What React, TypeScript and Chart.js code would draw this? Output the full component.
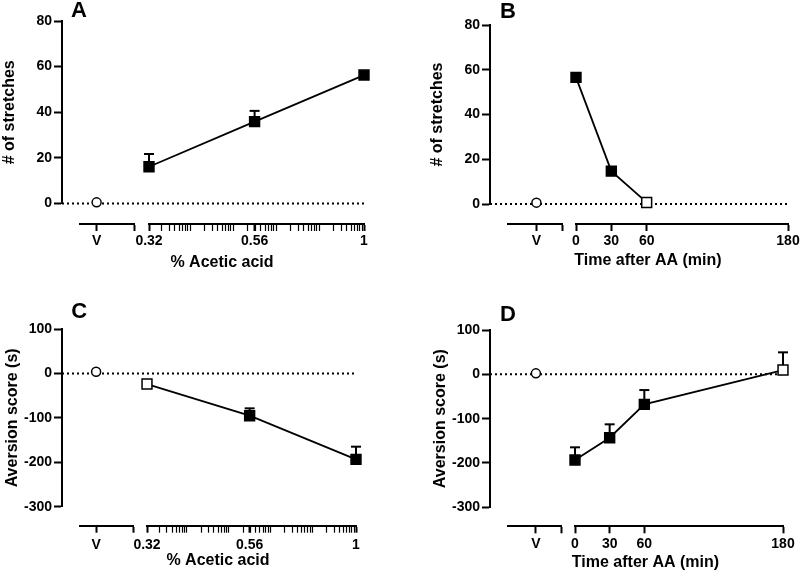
import React, { useEffect, useRef } from 'react';
import { Chart, registerables } from 'chart.js';

Chart.register(...registerables);

const FONT_FAMILY = "'Liberation Sans', Arial, Helvetica, sans-serif";

// ---------------- Data ----------------
const vehicleLabel = 'V';

const doseValues = [0.32, 0.56, 1];
const doseLabels = ['0.32', '0.56', '1'];
const doseMinorTicks = [
  0.3427, 0.3567, 0.367, 0.3752, 0.3821, 0.388, 0.3931, 0.3977,
  0.4304, 0.448, 0.461, 0.4713, 0.4799, 0.4873, 0.4937, 0.4995,
  0.5405, 0.5626, 0.5789, 0.5918, 0.6026, 0.6119, 0.62, 0.6273,
  0.6789, 0.7067, 0.7271, 0.7433, 0.7569, 0.7686, 0.7788, 0.7879,
  0.8527, 0.8876, 0.9132, 0.9336, 0.9507, 0.9653, 0.9781, 0.9896,
];

const timeValues = [0, 30, 60, 180];
const timeLabels = ['0', '30', '60', '180'];

const stretchYTicks = [0, 20, 40, 60, 80];
const aversionYTicks = [-300, -200, -100, 0, 100];

// Panel A: stretches vs % acetic acid
const stretchDoseX = [0.32, 0.56, 1];
const stretchDoseMean = [16.1, 35.9, 56.3];
const stretchDoseErrTop = [21.7, 40.6, null];
const stretchDoseOpen = [false, false, false];
const stretchDoseVehicle = 0.5;

// Panel B: stretches vs time after AA
const stretchTimeX = [0, 30, 60];
const stretchTimeMean = [56.6, 14.7, 0.7];
const stretchTimeErrTop = [null, null, null];
const stretchTimeOpen = [false, false, true];
const stretchTimeVehicle = 0.6;

// Panel C: aversion vs % acetic acid
const aversionDoseX = [0.32, 0.56, 1];
const aversionDoseMean = [-23.9, -95.2, -193.5];
const aversionDoseErrTop = [null, -78.6, -164.9];
const aversionDoseOpen = [true, false, false];
const aversionDoseVehicle = 3.8;

// Panel D: aversion vs time after AA
const aversionTimeX = [0, 30, 60, 180];
const aversionTimeMean = [-193.3, -143, -67.7, 9.7];
const aversionTimeErrTop = [-164.7, -112.8, -35.5, 49.6];
const aversionTimeOpen = [false, false, false, true];
const aversionTimeVehicle = 2.2;

// ---------------- Layout of panels ----------------
type Panel = {
  letter: string; letterX: number; letterY: number;
  left: number; top: number; w: number; h: number;
  axisX: number; axisTop: number; axisBottom: number; xTop: number;
  vStart: number; vEnd: number; mStart: number; mEnd: number; vMax: number;
  labelPad: number; titleOffset: number; yTitlePad: number;
  log: boolean; xMin: number; xMax: number;
  xMajors: number[]; xMajorLabels: string[]; xMinors: number[];
  yMin: number; yMax: number; yTicks: number[];
  yTitle: string; xTitle: string;
  xs: number[]; mean: number[]; errTop: (number | null)[]; open: boolean[]; vehicle: number;
};

const panels: Panel[] = [
  {
    letter: 'A', letterX: 71, letterY: 17.3,
    left: 0, top: 0, w: 400, h: 287,
    axisX: 62, axisTop: 21, axisBottom: 203.5, xTop: 224,
    vStart: 80, vEnd: 134, mStart: 149, mEnd: 364, vMax: 2.25,
    labelPad: 1.4, titleOffset: 38.5, yTitlePad: 0,
    log: true, xMin: 0.32, xMax: 1,
    xMajors: doseValues, xMajorLabels: doseLabels, xMinors: doseMinorTicks,
    yMin: 0, yMax: 80, yTicks: stretchYTicks,
    yTitle: '# of stretches', xTitle: '% Acetic acid',
    xs: stretchDoseX, mean: stretchDoseMean, errTop: stretchDoseErrTop, open: stretchDoseOpen, vehicle: stretchDoseVehicle,
  },
  {
    letter: 'B', letterX: 500, letterY: 18.3,
    left: 400, top: 0, w: 400, h: 287,
    axisX: 490, axisTop: 25, axisBottom: 204, xTop: 224,
    vStart: 508, vEnd: 562, mStart: 576, mEnd: 788, vMax: 0.9,
    labelPad: 1.4, titleOffset: 37, yTitlePad: 27.9,
    log: false, xMin: 0, xMax: 180,
    xMajors: timeValues, xMajorLabels: timeLabels, xMinors: [],
    yMin: 0, yMax: 80, yTicks: stretchYTicks,
    yTitle: '# of stretches', xTitle: 'Time after AA (min)',
    xs: stretchTimeX, mean: stretchTimeMean, errTop: stretchTimeErrTop, open: stretchTimeOpen, vehicle: stretchTimeVehicle,
  },
  {
    letter: 'C', letterX: 71.2, letterY: 318.3,
    left: 0, top: 287, w: 400, h: 286,
    axisX: 62, axisTop: 329, axisBottom: 506.7, xTop: 525.7,
    vStart: 80, vEnd: 133, mStart: 147, mEnd: 356, vMax: 2.29,
    labelPad: 3.6, titleOffset: 35.3, yTitlePad: 2.9,
    log: true, xMin: 0.32, xMax: 1,
    xMajors: doseValues, xMajorLabels: doseLabels, xMinors: doseMinorTicks,
    yMin: -300, yMax: 100, yTicks: aversionYTicks,
    yTitle: 'Aversion score (s)', xTitle: '% Acetic acid',
    xs: aversionDoseX, mean: aversionDoseMean, errTop: aversionDoseErrTop, open: aversionDoseOpen, vehicle: aversionDoseVehicle,
  },
  {
    letter: 'D', letterX: 500, letterY: 321.7,
    left: 400, top: 287, w: 400, h: 286,
    axisX: 490, axisTop: 330, axisBottom: 507.3, xTop: 526.3,
    vStart: 508, vEnd: 561, mStart: 575, mEnd: 783, vMax: 0.9,
    labelPad: 2.6, titleOffset: 36.7, yTitlePad: 31.2,
    log: false, xMin: 0, xMax: 180,
    xMajors: timeValues, xMajorLabels: timeLabels, xMinors: [],
    yMin: -300, yMax: 100, yTicks: aversionYTicks,
    yTitle: 'Aversion score (s)', xTitle: 'Time after AA (min)',
    xs: aversionTimeX, mean: aversionTimeMean, errTop: aversionTimeErrTop, open: aversionTimeOpen, vehicle: aversionTimeVehicle,
  },
];

const tickFont = { family: FONT_FAMILY, size: 14, weight: 'bold' as const };
const titleFont = { family: FONT_FAMILY, size: 16, weight: 'bold' as const };

function noPad(s: any) {
  s.paddingLeft = 0; s.paddingRight = 0; s.paddingTop = 0; s.paddingBottom = 0;
}

function buildConfig(p: Panel): any {
  const chartLeft = p.axisX - p.left;
  const chartRight = p.mEnd - p.left;
  const chartTop = p.axisTop - p.top;
  const yBottom = p.axisBottom - p.top;
  const chartBottom = p.xTop - p.top;
  const HA = 24;
  const HB = p.titleOffset - HA + 9.6;
  const padBottom = Math.max(0, p.h - chartBottom - HA - HB);

  const stems: any[] = [];
  const caps: any[] = [];
  p.xs.forEach((x, i) => {
    const t = p.errTop[i];
    if (t !== null && t !== undefined) {
      stems.push({ x, y: p.mean[i] }, { x, y: t }, { x, y: null });
      caps.push({ x, y: t });
    }
  });

  const xTicksAll = [...p.xMajors, ...p.xMinors].sort((a, b) => a - b);

  const xGrid = {
    display: true, drawOnChartArea: false, drawTicks: true, tickLength: 7,
    tickColor: '#000',
    tickWidth: (ctx: any) => (ctx.tick && p.xMajors.includes(ctx.tick.value) ? 2 : 1.2),
  };
  const border = { display: true, width: 2, color: '#000' };
  const fitA = (s: any) => { s.height = HA; noPad(s); };
  const fitB = (s: any) => { s.height = HB; noPad(s); };

  return {
    type: 'line',
    data: {
      datasets: [
        {
          type: 'line', xAxisID: 'x', yAxisID: 'y',
          data: p.xs.map((x, i) => ({ x, y: p.mean[i] })),
          borderColor: '#000', borderWidth: 1.8, tension: 0, fill: false,
          pointStyle: 'rect', pointRadius: 7, pointHoverRadius: 7,
          pointBackgroundColor: p.open.map((o) => (o ? '#fff' : '#000')),
          pointBorderColor: '#000', pointBorderWidth: 1.5,
          clip: false, order: 0,
        },
        {
          type: 'scatter', xAxisID: 'xv', yAxisID: 'y',
          data: [{ x: 0, y: p.vehicle }],
          pointStyle: 'circle', pointRadius: 4.5, pointHoverRadius: 4.5,
          pointBackgroundColor: '#fff', pointBorderColor: '#000', pointBorderWidth: 1.5,
          clip: false, order: 0,
        },
        {
          type: 'line', xAxisID: 'x', yAxisID: 'y',
          data: stems, borderColor: '#000', borderWidth: 2, pointRadius: 0,
          spanGaps: false, clip: false, order: 2,
        },
        {
          type: 'scatter', xAxisID: 'x', yAxisID: 'y',
          data: caps, pointStyle: 'line', pointRadius: 5, pointHoverRadius: 5,
          borderColor: '#000', pointBorderColor: '#000', pointBorderWidth: 2,
          clip: false, order: 2,
        },
        {
          type: 'line', xAxisID: 'xf', yAxisID: 'y',
          data: [{ x: 0, y: 0 }, { x: 1, y: 0 }],
          borderColor: '#000', borderWidth: 2, borderDash: [2, 3], pointRadius: 0,
          clip: false, order: 3,
        },
      ],
    },
    options: {
      animation: false,
      responsive: false,
      maintainAspectRatio: false,
      events: [],
      layout: {
        autoPadding: false,
        padding: { left: 0, right: p.w - chartRight, top: chartTop, bottom: padBottom },
      },
      plugins: { legend: { display: false }, tooltip: { enabled: false }, title: { display: false } },
      scales: {
        y: {
          type: 'linear', axis: 'y', position: 'left', stack: 'ys', stackWeight: yBottom - chartTop, weight: 2,
          min: p.yMin, max: p.yMax,
          afterBuildTicks: (s: any) => { s.ticks = p.yTicks.map((v) => ({ value: v })); },
          afterFit: (s: any) => { s.width = chartLeft; noPad(s); },
          ticks: { font: tickFont, color: '#000', padding: 2, autoSkip: false, callback: (v: any) => String(v) },
          grid: { display: true, drawOnChartArea: false, drawTicks: true, tickLength: 8, tickWidth: 2, tickColor: '#000' },
          border,
          title: { display: true, text: p.yTitle, font: titleFont, color: '#000', padding: { top: p.yTitlePad, bottom: 0 } },
        },
        ys: {
          type: 'linear', axis: 'y', position: 'left', stack: 'ys', stackWeight: chartBottom - yBottom, weight: 1,
          display: false,
          afterFit: (s: any) => { s.width = chartLeft; noPad(s); },
        },
        gap1: {
          type: 'linear', axis: 'x', position: 'bottom', stack: 'a', stackWeight: p.vStart - p.axisX, weight: 1,
          display: false, afterFit: fitA,
        },
        xv: {
          type: 'linear', axis: 'x', position: 'bottom', stack: 'a', stackWeight: p.vEnd - p.vStart, weight: 2,
          min: -1, max: p.vMax, bounds: 'data',
          afterBuildTicks: (s: any) => { s.ticks = [{ value: 0 }, { value: p.vMax }]; },
          afterFit: fitA,
          ticks: {
            font: tickFont, color: '#000', padding: p.labelPad, autoSkip: false, maxRotation: 0,
            callback: (v: any) => (Number(v) === 0 ? vehicleLabel : ''),
          },
          grid: { display: true, drawOnChartArea: false, drawTicks: true, tickLength: 7, tickColor: '#000', tickWidth: 2 },
          border,
        },
        gap2: {
          type: 'linear', axis: 'x', position: 'bottom', stack: 'a', stackWeight: p.mStart - p.vEnd, weight: 3,
          display: false, afterFit: fitA,
        },
        x: {
          type: p.log ? 'logarithmic' : 'linear', axis: 'x', position: 'bottom', stack: 'a',
          stackWeight: p.mEnd - p.mStart, weight: 4,
          min: p.xMin, max: p.xMax, bounds: 'data',
          afterBuildTicks: (s: any) => { s.ticks = xTicksAll.map((v) => ({ value: v })); },
          afterFit: fitA,
          ticks: {
            font: tickFont, color: '#000', padding: p.labelPad, autoSkip: false, maxRotation: 0,
            major: { enabled: false },
            callback: (v: any) => {
              const i = p.xMajors.indexOf(Number(v));
              return i >= 0 ? p.xMajorLabels[i] : '';
            },
          },
          grid: xGrid,
          border,
        },
        gapT: {
          type: 'linear', axis: 'x', position: 'bottom', stack: 'b', stackWeight: p.vStart - p.axisX, weight: 5,
          display: false, afterFit: fitB,
        },
        xt: {
          type: 'linear', axis: 'x', position: 'bottom', stack: 'b', stackWeight: p.mEnd - p.vStart, weight: 6,
          display: true,
          afterFit: fitB,
          ticks: { display: false },
          grid: { display: false, drawTicks: false },
          border: { display: false },
          title: { display: true, text: p.xTitle, font: titleFont, color: '#000', padding: { top: 0, bottom: 0 } },
        },
        xf: {
          type: 'linear', axis: 'x', position: 'bottom', weight: 7, display: false, min: 0, max: 1,
          afterFit: (s: any) => { s.height = 0; noPad(s); },
        },
      },
    },
  };
}

function PanelChart({ p }: { p: Panel }) {
  const ref = useRef<HTMLCanvasElement | null>(null);
  useEffect(() => {
    if (!ref.current) return;
    const chart = new Chart(ref.current, buildConfig(p));
    return () => chart.destroy();
  }, [p]);
  return (
    <div style={{ position: 'absolute', left: p.left, top: p.top, width: p.w, height: p.h }}>
      <canvas ref={ref} width={p.w} height={p.h} style={{ width: p.w, height: p.h, display: 'block' }} />
    </div>
  );
}

export default function App() {
  return (
    <div style={{ position: 'fixed', left: 0, top: 0, width: 800, height: 573, background: '#fff', overflow: 'hidden' }}>
      {panels.map((p) => (
        <PanelChart key={p.letter} p={p} />
      ))}
      {panels.map((p) => (
        <div
          key={'L' + p.letter}
          style={{
            position: 'absolute', left: p.letterX, top: p.letterY - 18.6,
            fontFamily: FONT_FAMILY, fontWeight: 'bold', fontSize: 22, lineHeight: '22px', color: '#000',
          }}
        >
          {p.letter}
        </div>
      ))}
    </div>
  );
}
